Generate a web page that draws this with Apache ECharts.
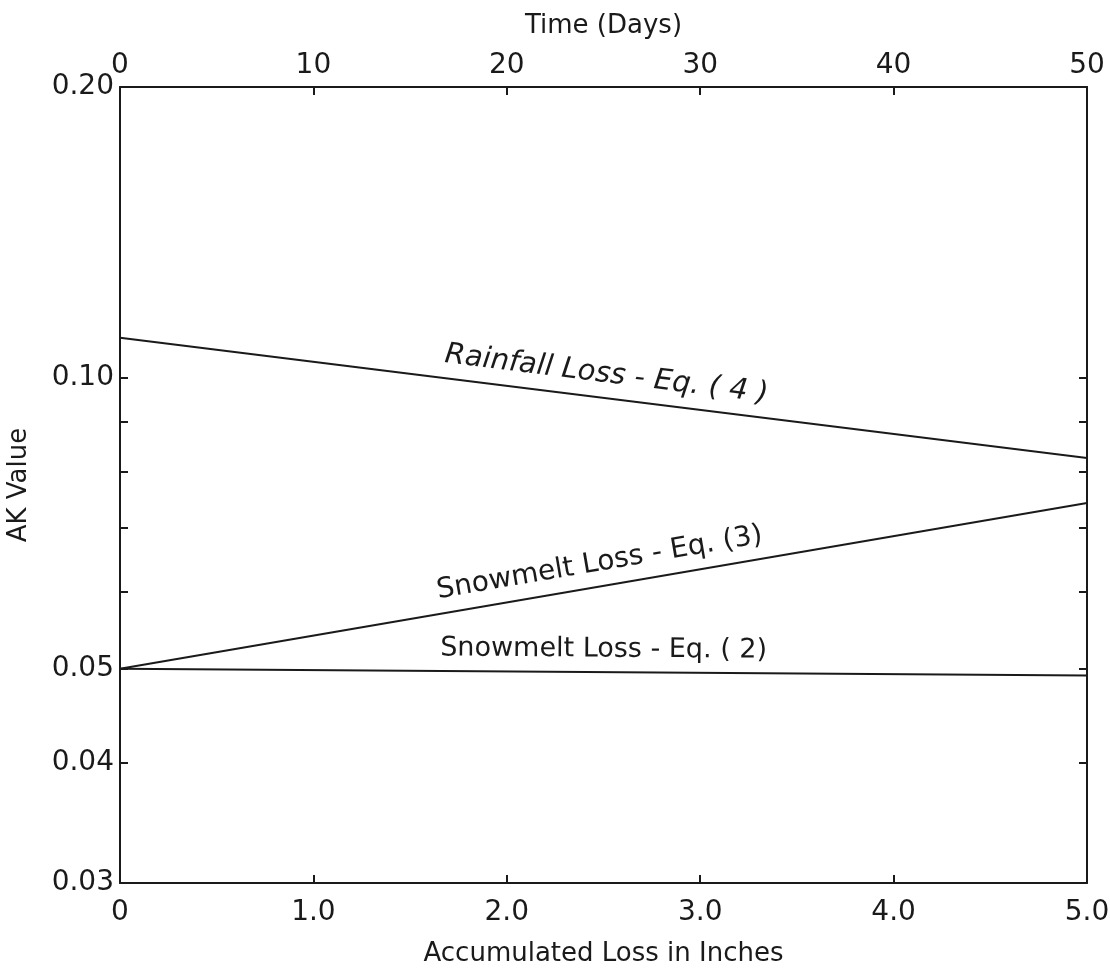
<!DOCTYPE html>
<html>
<head>
<meta charset="utf-8">
<script src="https://cdn.jsdelivr.net/npm/echarts@6/dist/echarts.min.js"></script>
<style>
  html, body { margin: 0; padding: 0; background: #fff; }
  #chart { width: 1110px; height: 980px; }
</style>
</head>
<body>
<div id="chart"></div>
<script>
// accumulated loss (inches) at the ends of each straight line
const lossInches = [0, 5.0];
const rainfallEq4 = [0.110, 0.0826];
const snowmeltEq3 = [0.050, 0.0742];
const snowmeltEq2 = [0.050, 0.0492];

const yLabelValues = [0.03, 0.04, 0.05, 0.10, 0.20];
const yTickValues = [0.04, 0.05, 0.06, 0.07, 0.08, 0.09, 0.10];

const fontFamily = '"DejaVu Sans", "Open Sans", sans-serif';
const ink = '#1a1a1a';

document.addEventListener('DOMContentLoaded', function () {
    const chart = echarts.init(document.getElementById('chart'));

    function lineSeries(name, values, italic, size) {
        const pts = lossInches.map((x, i) => [x, values[i]]);
        return {
            name: name,
            type: 'line',
            xAxisIndex: 0,
            yAxisIndex: 0,
            symbol: 'none',
            silent: true,
            lineStyle: { color: ink, width: 2 },
            data: pts,
            markLine: {
                silent: true,
                symbol: ['none', 'none'],
                lineStyle: { color: 'rgba(0,0,0,0)', width: 1 },
                label: {
                    show: true,
                    position: 'insideMiddleTop',
                    distance: 9,
                    formatter: name,
                    color: ink,
                    fontFamily: fontFamily,
                    fontSize: size,
                    fontStyle: italic ? 'italic' : 'normal'
                },
                data: [[{ coord: pts[0] }, { coord: pts[pts.length - 1] }]]
            }
        };
    }

    const option = {
        animation: false,
        backgroundColor: '#fff',
        textStyle: { fontFamily: fontFamily, color: ink },
        grid: [
            { left: 120, right: 23, top: 87, bottom: 97, outerBoundsMode: 'none' },
            // thin strip on the right edge, only used for the inward ticks of the frame
            { left: 1087, right: 0, top: 87, bottom: 97, outerBoundsMode: 'none' }
        ],
        xAxis: [
            {
                type: 'value',
                gridIndex: 0,
                position: 'bottom',
                min: 0,
                max: 5,
                interval: 1,
                name: 'Accumulated Loss in Inches',
                nameLocation: 'middle',
                nameGap: 58,
                nameTextStyle: { fontSize: 26, color: ink },
                axisLine: { show: true, lineStyle: { color: ink, width: 2 } },
                axisTick: { inside: true, length: 8, lineStyle: { color: ink, width: 2 } },
                axisLabel: {
                    margin: 16,
                    fontSize: 28,
                    color: ink,
                    formatter: v => (v === 0 ? '0' : v.toFixed(1))
                },
                splitLine: { show: false }
            },
            {
                type: 'value',
                gridIndex: 0,
                position: 'top',
                min: 0,
                max: 50,
                interval: 10,
                name: 'Time (Days)',
                nameLocation: 'middle',
                nameGap: 48,
                nameTextStyle: { fontSize: 26, color: ink },
                axisLine: { show: true, lineStyle: { color: ink, width: 2 } },
                axisTick: { inside: true, length: 8, lineStyle: { color: ink, width: 2 } },
                axisLabel: { margin: 7, fontSize: 28, color: ink },
                splitLine: { show: false }
            },
            {
                type: 'value',
                gridIndex: 1,
                min: 0,
                max: 1,
                show: false
            }
        ],
        yAxis: [
            {
                type: 'log',
                gridIndex: 0,
                logBase: 10,
                position: 'left',
                min: 0.03,
                max: 0.2,
                name: 'AK Value',
                nameLocation: 'middle',
                nameGap: 88,
                nameRotate: 90,
                nameTextStyle: { fontSize: 26, color: ink },
                axisLine: { show: true, lineStyle: { color: ink, width: 2 } },
                axisTick: {
                    show: true,
                    inside: true,
                    length: 8,
                    customValues: yTickValues,
                    lineStyle: { color: ink, width: 2 }
                },
                axisLabel: {
                    margin: 6,
                    fontSize: 28,
                    color: ink,
                    customValues: yLabelValues,
                    formatter: v => Number(v).toFixed(2)
                },
                splitLine: { show: false }
            },
            {
                type: 'log',
                gridIndex: 1,
                logBase: 10,
                position: 'left',
                min: 0.03,
                max: 0.2,
                axisLine: { show: true, lineStyle: { color: ink, width: 2 } },
                axisTick: {
                    show: true,
                    inside: false,
                    length: 8,
                    customValues: yTickValues,
                    lineStyle: { color: ink, width: 2 }
                },
                axisLabel: { show: false },
                splitLine: { show: false }
            }
        ],
        series: [
            lineSeries('Rainfall Loss - Eq. ( 4 )', rainfallEq4, true, 29),
            lineSeries('Snowmelt Loss - Eq. (3)', snowmeltEq3, false, 28),
            lineSeries('Snowmelt Loss - Eq. ( 2)', snowmeltEq2, false, 27)
        ]
    };
    chart.setOption(option);

    window.addEventListener('resize', function () {
        chart.resize();
    });
});
</script>
</body>
</html>
